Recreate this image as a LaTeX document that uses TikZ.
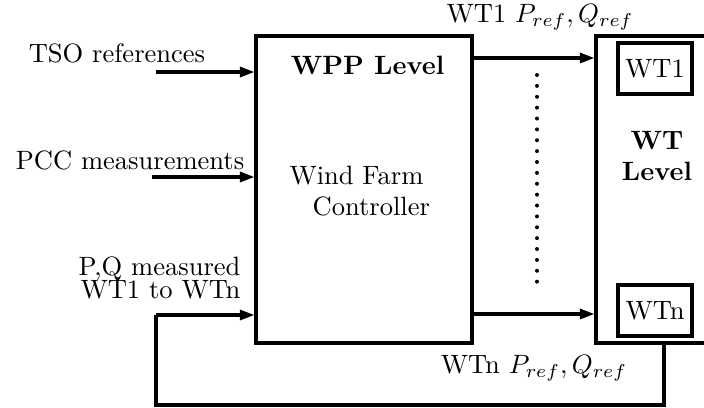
\documentclass[tikz,border=0pt]{standalone}
\usetikzlibrary{fit,arrows.meta}
\begin{document}
\begin{tikzpicture}[x=0.377pt,y=-0.377pt,
  blockbox/.style={draw,line width=1.2pt,inner sep=0pt},
  wtbox/.style={draw,line width=1.2pt,inner sep=0pt,minimum width=27.9pt,minimum height=19.2pt},
  flow/.style={line width=1.15pt,-{Triangle[length=5.5pt,width=3.8pt]}},
  fb/.style={line width=1.15pt},
  lbl/.style={inner sep=0pt}]
\clip (0,0) rectangle (704,407);
\useasboundingbox (0,0) rectangle (704,407);
% blocks
\node[blockbox,fit={(256,36) (472,343)}] (wpp) {};
\node[blockbox,fit={(596,36) (716,343)}] (wt) {};
\node[wtbox] (wt1) at (655,68.5) {WT1};
\node[wtbox] (wtn) at (655,310.5) {WTn};
% texts
\node[lbl,font=\bfseries] (wpplbl) at (367.5,65) {WPP Level};
\node[lbl,anchor=west,align=left] (wfc) at (289,191) {Wind Farm\\\hspace*{8.7pt}Controller};
\node[lbl,align=center,font=\bfseries] (wtlbl) at (657,156) {WT\\Level};
\node[lbl] (tso) at (117,53) {TSO references};
\node[lbl] (pcc) at (130,160) {PCC measurements};
\node[lbl,align=right,anchor=east] (pq) at (241,278) {P,Q measured\\[-3.5pt]WT1 to WTn};
\node[lbl] (wt1ref) at (540,17) {WT1 $P_{ref},Q_{ref}$};
\node[lbl] (wtnref) at (534,368) {WTn $P_{ref},Q_{ref}$};
% coordinates
\coordinate (tsoS) at (156,72);
\coordinate (pccS) at (152,177);
\coordinate (fbA) at (664,405);
\coordinate (fbB) at (156,405);
\coordinate (fbC) at (156,315);
\coordinate (d1) at (537,75);
\coordinate (d2) at (537,292);
% connectors
\draw[flow] (tsoS) -- (tsoS -| wpp.west);
\draw[flow] (pccS) -- (pccS -| wpp.west);
\draw[flow] (wpp.east |- 0,58) -- (wt.west |- 0,58);
\draw[flow] (wpp.east |- 0,314) -- (wt.west |- 0,314);
\draw[fb] (fbA |- wt.south) -- (fbA) -- (fbB) -- (fbC);
\draw[flow] (fbC) -- (fbC -| wpp.west);
\draw[line width=1.5pt,dash pattern=on 0pt off 4.1pt,line cap=round] (d1) -- (d2);
\end{tikzpicture}
\end{document}
